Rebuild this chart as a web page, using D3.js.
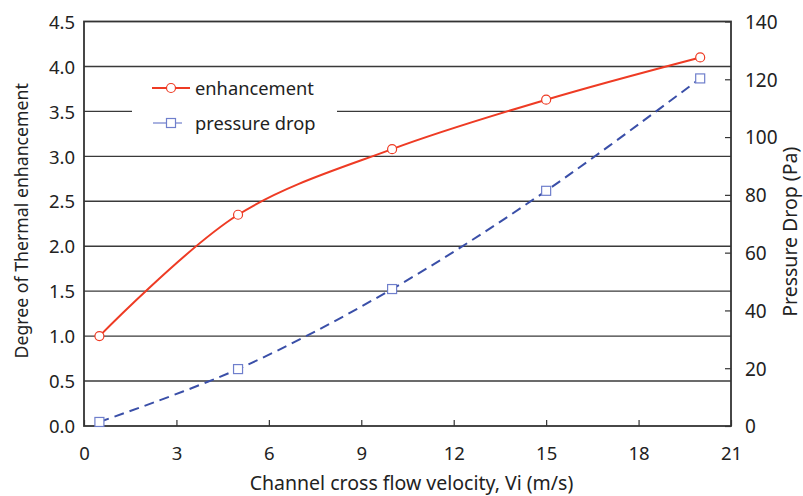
<!DOCTYPE html>
<html>
<head>
<meta charset="utf-8">
<script src="https://cdn.jsdelivr.net/npm/d3@7"></script>
<style>
  html, body { margin: 0; padding: 0; background: #fff; }
  svg text { font-family: "Noto Sans", "DejaVu Sans", sans-serif; fill: #222; }
</style>
</head>
<body>
<svg id="chart" width="803" height="496"></svg>
<script>
// Channel cross flow velocity (m/s)
const velocity = [0.5, 5, 10, 15, 20];
// Degree of thermal enhancement (left axis)
const enhancement = [1.0, 2.35, 3.08, 3.63, 4.10];
// Pressure drop in Pa (right axis)
const pressureDrop = [1.4, 19.7, 47.4, 81.4, 120.3];

const xTicks = [0, 3, 6, 9, 12, 15, 18, 21];
const yLeftTicks = [0, 0.5, 1.0, 1.5, 2.0, 2.5, 3.0, 3.5, 4.0, 4.5];
const yRightTicks = [0, 20, 40, 60, 80, 100, 120, 140];

const seriesNames = ["enhancement", "pressure drop"];

const svg = d3.select("#chart");
const margin = { left: 84, right: 72, top: 21.5, bottom: 70 };
const W = 803, H = 496;
const x0 = margin.left, x1 = W - margin.right;
const y0 = H - margin.bottom, y1 = margin.top;

const x = d3.scaleLinear().domain([0, 21]).range([x0, x1]);
const yL = d3.scaleLinear().domain([0, 4.5]).range([y0, y1]);
const yR = d3.scaleLinear().domain([0, 140]).range([y0, y1]);

const red = "#ee3b24";
const blue = "#3a4fa8";
const blueMarker = "#6f7fcc";

// horizontal grid lines at each left tick
svg.append("g")
  .selectAll("line")
  .data(yLeftTicks.slice(1, -1))
  .join("line")
  .attr("x1", x0).attr("x2", x1)
  .attr("y1", d => yL(d)).attr("y2", d => yL(d))
  .attr("stroke", "#3a3a3a").attr("stroke-width", 1.4);

// legend background knocks out the grid behind it
svg.append("rect")
  .attr("x", 132).attr("y", 72).attr("width", 205).attr("height", 70)
  .attr("fill", "#fff");

// x axis: ticks point into the plot
const xAxis = svg.append("g")
  .attr("transform", `translate(0,${y0})`)
  .call(d3.axisBottom(x).tickValues(xTicks).tickSize(-6).tickPadding(21).tickFormat(d3.format("d")));
xAxis.select(".domain").remove();
xAxis.selectAll("line").attr("stroke", "#333").attr("stroke-width", 1.2);
xAxis.selectAll("text").attr("font-size", 18.5);

// left axis: labels only
const yAxisL = svg.append("g")
  .attr("transform", `translate(${x0},0)`)
  .call(d3.axisLeft(yL).tickValues(yLeftTicks).tickSize(0).tickPadding(9).tickFormat(d3.format(".1f")));
yAxisL.select(".domain").remove();
yAxisL.selectAll("text").attr("font-size", 18.5).attr("dy", "0.36em");

// right axis: ticks point into the plot
const yAxisR = svg.append("g")
  .attr("transform", `translate(${x1},0)`)
  .call(d3.axisRight(yR).tickValues(yRightTicks).tickSize(-6).tickPadding(14).tickFormat(d3.format("d")));
yAxisR.select(".domain").remove();
yAxisR.selectAll("line").attr("stroke", "#333").attr("stroke-width", 1.2);
yAxisR.selectAll("text").attr("font-size", 19).attr("dy", "0.36em");

// plot frame
svg.append("rect")
  .attr("x", x0).attr("y", y1).attr("width", x1 - x0).attr("height", y0 - y1)
  .attr("fill", "none").attr("stroke", "#333").attr("stroke-width", 1.8);

// axis titles
svg.append("text")
  .attr("x", (x0 + x1) / 2 + 4).attr("y", 490)
  .attr("text-anchor", "middle").attr("font-size", 19.5)
  .text("Channel cross flow velocity, Vi (m/s)");

svg.append("text")
  .attr("transform", `translate(28,${(y0 + y1) / 2 - 3}) rotate(-90)`)
  .attr("text-anchor", "middle").attr("font-size", 17.7)
  .text("Degree of Thermal enhancement");

svg.append("text")
  .attr("transform", `translate(797,${(y0 + y1) / 2 + 8}) rotate(-90)`)
  .attr("text-anchor", "middle").attr("font-size", 19.5)
  .text("Pressure Drop (Pa)");

// series
const enhData = velocity.map((v, i) => [v, enhancement[i]]);
const pdData = velocity.map((v, i) => [v, pressureDrop[i]]);

const lineL = d3.line().x(d => x(d[0])).y(d => yL(d[1])).curve(d3.curveCatmullRom.alpha(0.5));
const lineR = d3.line().x(d => x(d[0])).y(d => yR(d[1])).curve(d3.curveCatmullRom.alpha(0.5));

svg.append("path")
  .attr("d", lineR(pdData))
  .attr("fill", "none").attr("stroke", blue).attr("stroke-width", 2)
  .attr("stroke-dasharray", "10,6");

svg.append("path")
  .attr("d", lineL(enhData))
  .attr("fill", "none").attr("stroke", red).attr("stroke-width", 2);

svg.append("g").selectAll("rect")
  .data(pdData)
  .join("rect")
  .attr("x", d => x(d[0]) - 4.5).attr("y", d => yR(d[1]) - 4.5)
  .attr("width", 9).attr("height", 9)
  .attr("fill", "#fff").attr("stroke", blueMarker).attr("stroke-width", 1.2);

svg.append("g").selectAll("circle")
  .data(enhData)
  .join("circle")
  .attr("cx", d => x(d[0])).attr("cy", d => yL(d[1])).attr("r", 4.5)
  .attr("fill", "#fff").attr("stroke", red).attr("stroke-width", 1.2);

// legend
const legend = svg.append("g");
const lg0 = legend.append("g").attr("transform", "translate(0,88)");
lg0.append("line").attr("x1", 152).attr("x2", 190).attr("stroke", red).attr("stroke-width", 2);
lg0.append("circle").attr("cx", 171).attr("r", 4.5).attr("fill", "#fff").attr("stroke", red).attr("stroke-width", 1.2);
lg0.append("text").attr("x", 195).attr("dy", "0.36em").attr("font-size", 18.3).text(seriesNames[0]);

const lg1 = legend.append("g").attr("transform", "translate(0,123)");
lg1.append("line").attr("x1", 153).attr("x2", 182).attr("stroke", blueMarker).attr("stroke-width", 1.2);
lg1.append("rect").attr("x", 166.5).attr("y", -4.5).attr("width", 9).attr("height", 9)
  .attr("fill", "#fff").attr("stroke", blueMarker).attr("stroke-width", 1.2);
lg1.append("text").attr("x", 195).attr("dy", "0.36em").attr("font-size", 18.3).text(seriesNames[1]);
</script>
</body>
</html>
